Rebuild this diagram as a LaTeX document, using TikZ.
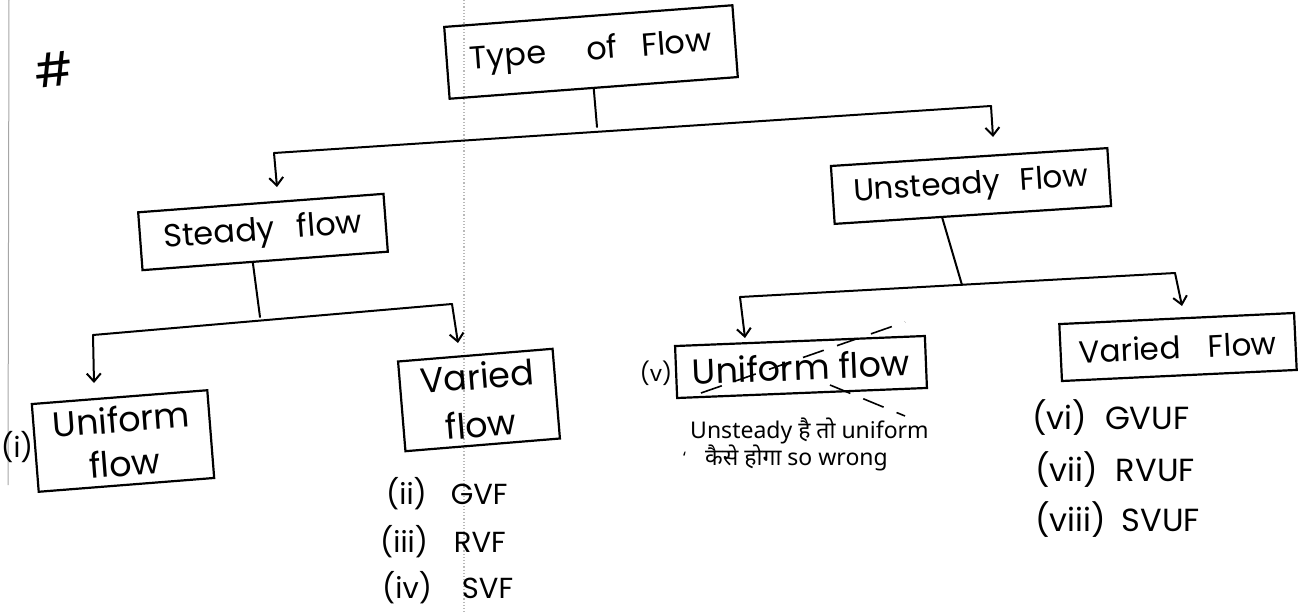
\documentclass[tikz,border=0pt]{standalone}
\usepackage{fontspec}
\setmainfont{Poppins}
\newfontfamily\deva[Script=Devanagari]{Noto Sans}
\usetikzlibrary{arrows.meta,calc}
\begin{document}
\begin{tikzpicture}[x=1pt,y=-1pt,
  box/.style={draw, line width=2.2pt, inner sep=0pt, align=center},
  conn/.style={line width=2pt, line cap=round, line join=round},
  arr/.style={conn, -{Straight Barb[length=8pt,width=14pt,line width=2pt]}},
  strike/.style={line width=1.6pt, dash pattern=on 22pt off 14pt},
  fs/.style={font=\fontsize{#1}{#1}\selectfont},
  item/.style={anchor=west, inner sep=0pt, font=\fontsize{29}{29}\selectfont},
  ritem/.style={anchor=west, inner sep=0pt, font=\fontsize{32}{32}\selectfont},
  note/.style={anchor=west, inner sep=0pt, font=\deva\fontsize{23}{23}\selectfont}
]
\useasboundingbox (0,0) rectangle (1298,613);
% scan artefacts
\draw[gray!70, line width=1pt] (9,0) -- (8,485);
\draw[gray!55, line width=1.2pt, dotted] (464,0) -- (464,613);

\node[fs=46, rotate=6, inner sep=0pt] (hash) at (54,70) {\#};

% boxes
\node[box, fs=32, rotate=4.3, minimum width=289pt, minimum height=72pt] (type) at (591,52) {Type\hspace{40pt}of\hspace{24pt}Flow};
\node[box, fs=32, rotate=4.3, minimum width=246pt, minimum height=58pt] (steady) at (263,232) {Steady\hspace{22pt}flow};
\node[box, rotate=3.7, fs=31, minimum width=277pt, minimum height=58pt] (unsteady) at (971,186) {Unsteady\hspace{20pt}Flow};
\node[box, rotate=4.5, font=\fontsize{35}{44}\selectfont, minimum width=176pt, minimum height=88pt] (unifL) at (123,441) {Uniform\\flow};
\node[box, rotate=4.7, font=\fontsize{35}{48}\selectfont, minimum width=155pt, minimum height=90pt] (varL) at (479,400) {Varied\\flow};
\node[box, rotate=2.3, fs=35, minimum width=250pt, minimum height=52pt] (unifR) at (801,367) {Uniform flow};
\node[box, rotate=2.7, fs=31, minimum width=235pt, minimum height=57pt] (varR) at (1178,347) {Varied\hspace{28pt}Flow};

% connectors level 1
\coordinate (t1) at (597,127);
\coordinate (b1l) at (274,153);
\coordinate (b1r) at (991,106);
\coordinate (a1l) at (277,187);
\coordinate (a1r) at (993,137);
\draw[conn] (type.south) -- (t1);
\draw[conn] (b1l) -- (b1r);
\draw[arr] (b1l) -- (a1l);
\draw[arr] (b1r) -- (a1r);

% connectors under steady
\coordinate (s0) at ($(steady.south west)!0.45!(steady.south east)$);
\coordinate (s1) at (260,317);
\coordinate (b2l) at (93,335);
\coordinate (b2r) at (452,304);
\coordinate (a2l) at (94,383);
\coordinate (a2r) at (458,343);
\draw[conn] (s0) -- (s1);
\draw[conn] (b2l) -- (b2r);
\draw[arr] (b2l) -- (a2l);
\draw[arr] (b2r) -- (a2r);

% connectors under unsteady
\coordinate (u0) at ($(unsteady.south west)!0.39!(unsteady.south east)$);
\coordinate (u1) at (962,285);
\coordinate (b3l) at (740,297);
\coordinate (b3r) at (1175,273);
\coordinate (a3l) at (745,338);
\coordinate (a3r) at (1182,306);
\draw[conn] (u0) -- (u1);
\draw[conn] (b3l) -- (b3r);
\draw[arr] (b3l) -- (a3l);
\draw[arr] (b3r) -- (a3r);

% side labels
\node[fs=28, inner sep=0pt] (li) at (17,447) {(i)};
\node[fs=22, inner sep=0pt] (lv) at (656,373) {(v)};

% strike marks over the right uniform flow
\coordinate (k1) at (701,393);
\coordinate (k2) at (905,322);
\coordinate (k3) at (830,385);
\coordinate (k4) at (905,416);
\draw[strike] (k1) -- (k2);
\draw[strike] (k3) -- (k4);

% note
\node[note] (n1) at (690,431) {Unsteady है तो uniform};
\node[note] (n2) at (705,458) {कैसे होगा so wrong};
\node[note, font=\deva\fontsize{16}{16}\selectfont] (n0) at (683,458) {‘};

% lists
\node[item] (l2) at (386,494) {(ii)\hspace{24pt}GVF};
\node[item] (l3) at (380,542) {(iii)\hspace{26pt}RVF};
\node[item] (l4) at (382,588) {(iv)\hspace{30pt}SVF};
\node[ritem] (r6) at (1032,418) {(vi)\hspace{18pt}GVUF};
\node[ritem] (r7) at (1035,470) {(vii)\hspace{18pt}RVUF};
\node[ritem] (r8) at (1035,520) {(viii)\hspace{16pt}SVUF};
\end{tikzpicture}
\end{document}
